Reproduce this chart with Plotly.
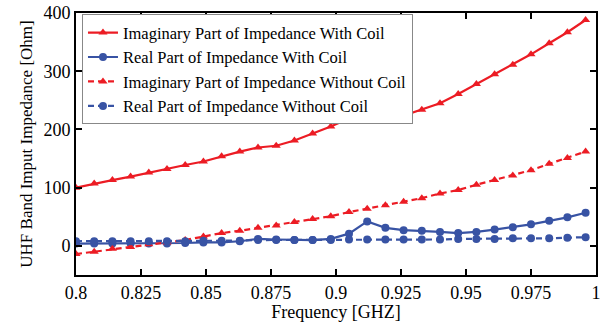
import numpy as np
import plotly.graph_objects as go

freq = [round(0.8 + 0.007 * i, 3) for i in range(29)]

imag_with = [100, 107, 113, 119, 126, 132, 139, 145, 154, 162, 169, 172, 181, 193,
             205, 219, 219, 213, 224, 234, 245, 261, 278, 295, 311, 329, 348, 367, 388]
real_with = [4, 4, 4, 4, 4, 4, 5, 6, 6, 8, 12, 11, 10, 10,
             12, 21, 42, 31, 27, 26, 24, 22, 24, 28, 32, 37, 43, 49, 57]
imag_without = [-14, -10, -5, -2, 3, 6, 10, 16, 22, 26, 31, 35, 41, 46,
                51, 58, 64, 70, 76, 82, 90, 96, 105, 113, 121, 130, 141, 151, 162]
real_without = [8, 8, 8, 8, 8, 8, 8, 9, 9, 9, 10, 10, 10, 10,
                 10, 11, 11, 11, 11, 11, 11, 12, 12, 12, 13, 13, 13, 14, 15]

names = ["Imaginary Part of Impedance With Coil",
         "Real Part of Impedance With Coil",
         "Imaginary Part of Impedance Without Coil",
         "Real Part of Impedance Without Coil"]

RED = "#ec1c24"
BLUE = "#3853a4"
FONT = "Times New Roman, Liberation Serif, serif"

series = [
    (imag_with, RED, "solid", "triangle-up"),
    (real_with, BLUE, "solid", "circle"),
    (imag_without, RED, "6px,4px", "triangle-up"),
    (real_without, BLUE, "6px,4px", "circle"),
]

fig = go.Figure()
for (vals, col, dash, sym), nm in zip(series, names):
    fig.add_trace(go.Scatter(
        x=freq, y=vals, name=nm, mode="lines+markers",
        line=dict(color=col, width=2.2, dash=dash),
        marker=dict(symbol=sym, size=8, color=col),
    ))

fig.update_layout(
    width=607, height=322,
    margin=dict(l=76, r=11, t=13, b=47, autoexpand=False),
    paper_bgcolor="white", plot_bgcolor="white",
    font=dict(family=FONT, size=18, color="black"),
    showlegend=True,
    legend=dict(
        x=0.0115, y=0.995, xanchor="left", yanchor="top",
        bgcolor="white", bordercolor="#888888", borderwidth=1,
        font=dict(family=FONT, size=16.5),
        tracegroupgap=0, itemwidth=30,
    ),
)
fig.update_xaxes(
    range=[0.8, 1.0], tickvals=[0.8, 0.825, 0.85, 0.875, 0.9, 0.925, 0.95, 0.975, 1.0],
    ticktext=["0.8", "0.825", "0.85", "0.875", "0.9", "0.925", "0.95", "0.975", "1"],
    ticks="inside", ticklen=6, tickwidth=2, tickcolor="black",
    tickfont=dict(family=FONT, size=18),
    showline=True, linecolor="black", linewidth=2, mirror="ticks",
    showgrid=False, zeroline=False, automargin=False,
    title=dict(text="Frequency [GHZ]", font=dict(family=FONT, size=18)),
)
fig.update_yaxes(
    range=[-50, 400], tickvals=[0, 100, 200, 300, 400],
    ticks="inside", ticklen=6, tickwidth=2, tickcolor="black",
    tickfont=dict(family=FONT, size=18),
    showline=True, linecolor="black", linewidth=2, mirror="ticks",
    showgrid=False, zeroline=False, automargin=True,
    title=dict(text="UHF Band Imput Impedance [Ohm]", font=dict(family=FONT, size=17), standoff=6),
)

fig.write_html("out.html")
